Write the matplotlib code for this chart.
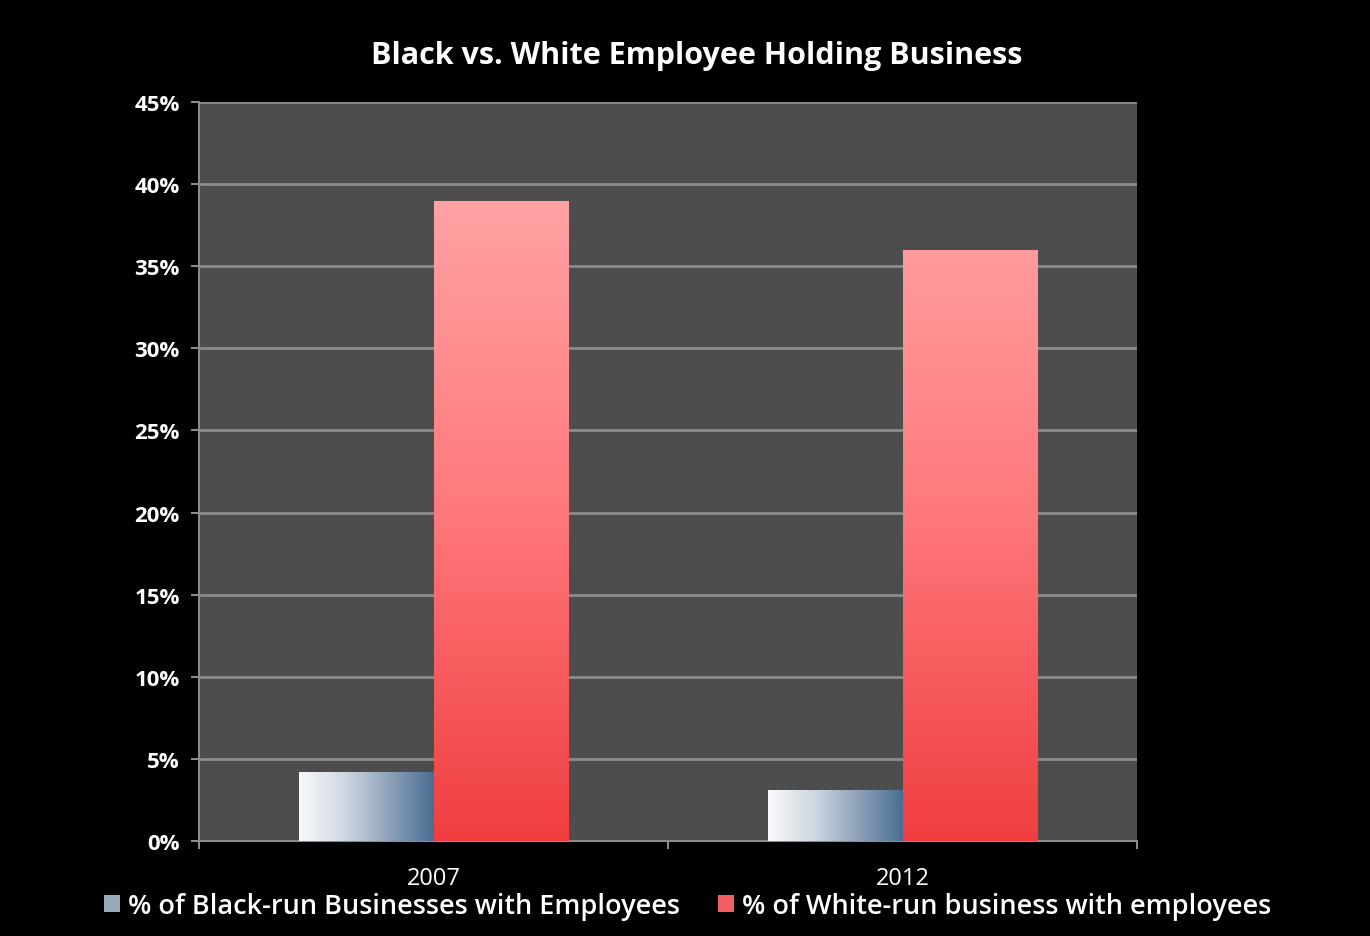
import numpy as np
import matplotlib.pyplot as plt
from matplotlib.patches import Patch
from matplotlib.colors import LinearSegmentedColormap

years = ['2007', '2012']
black_run = [4.2, 3.1]
white_run = [39.0, 36.0]
series_names = ['% of Black-run Businesses with Employees',
                '% of White-run business with employees']
y_ticks = [0, 5, 10, 15, 20, 25, 30, 35, 40, 45]

plt.rcParams['font.family'] = ['Open Sans', 'DejaVu Sans']

red_cmap = LinearSegmentedColormap.from_list('red_fill', ['#f03e40', '#ff7b7e', '#ffa8aa'])
blue_cmap = LinearSegmentedColormap.from_list('blue_fill', ['#f8f9fb', '#d0d8e2', '#8fa3ba', '#4a6d93'])


def gradient_bars(ax, bars, cmap, vertical):
    for rect in bars:
        x0, y0 = rect.get_x(), rect.get_y()
        w, h = rect.get_width(), rect.get_height()
        if vertical:
            # colour follows the value axis, light at the top
            grad = np.linspace(0, 1, 256).reshape(-1, 1)
            img = ax.imshow(grad, cmap=cmap, origin='lower', aspect='auto',
                            extent=(x0, x0 + w, 0, 42), vmin=0, vmax=1, zorder=3)
        else:
            grad = np.linspace(0, 1, 256).reshape(1, -1)
            img = ax.imshow(grad, cmap=cmap, origin='lower', aspect='auto',
                            extent=(x0, x0 + w, y0, y0 + h), zorder=3)
        img.set_clip_path(rect)


def main():
    fig = plt.figure(figsize=(13.7, 9.37), dpi=100, facecolor='black')
    ax = fig.add_axes([0.1453, 0.1014, 0.6847, 0.7886])
    ax.set_facecolor('#4d4d4d')

    x = np.arange(len(years))
    width = 0.286
    b1 = ax.bar(x - width / 2, black_run, width, color='none', edgecolor='none', zorder=3)
    b2 = ax.bar(x + width / 2, white_run, width, color='none', edgecolor='none', zorder=3)
    gradient_bars(ax, b1, blue_cmap, vertical=False)
    gradient_bars(ax, b2, red_cmap, vertical=True)

    ax.set_xlim(-0.5, 1.5)
    ax.set_ylim(0, 45)
    ax.set_yticks(y_ticks)
    ax.set_yticklabels([f'{t}%' for t in y_ticks], color='white', fontsize=16, fontweight='bold')
    ax.yaxis.grid(True, color='#8c8c8c', linewidth=2)
    ax.set_axisbelow(True)

    ax.set_xticks([-0.5, 0.5, 1.5])
    ax.set_xticklabels([])
    ax.set_xticks(x, minor=True)
    ax.set_xticklabels(years, minor=True, color='white', fontsize=17)
    ax.tick_params(axis='x', which='minor', length=0, pad=18)
    ax.tick_params(axis='x', which='major', color='#8c8c8c', length=6, width=1.5)
    ax.tick_params(axis='y', color='#8c8c8c', length=6, width=1.5, pad=8)

    for side in ['top', 'right']:
        ax.spines[side].set_visible(False)
    for side in ['left', 'bottom']:
        ax.spines[side].set_color('#8c8c8c')
        ax.spines[side].set_linewidth(1.5)

    ax.set_title('Black vs. White Employee Holding Business', color='white',
                 fontsize=22, fontweight='bold', pad=28, x=0.53)

    handles = [Patch(facecolor='#9aaabd', edgecolor='none'),
               Patch(facecolor='#f35e62', edgecolor='none')]
    fig.legend(handles, series_names, loc='center', bbox_to_anchor=(0.502, 0.032),
               ncol=2, frameon=False, labelcolor='white',
               prop={'weight': 'semibold', 'size': 19.5},
               handlelength=0.6, handleheight=0.6, handletextpad=0.3, columnspacing=1.4)

    fig.savefig('out.png', dpi=100, facecolor='black')


if __name__ == '__main__':
    main()
